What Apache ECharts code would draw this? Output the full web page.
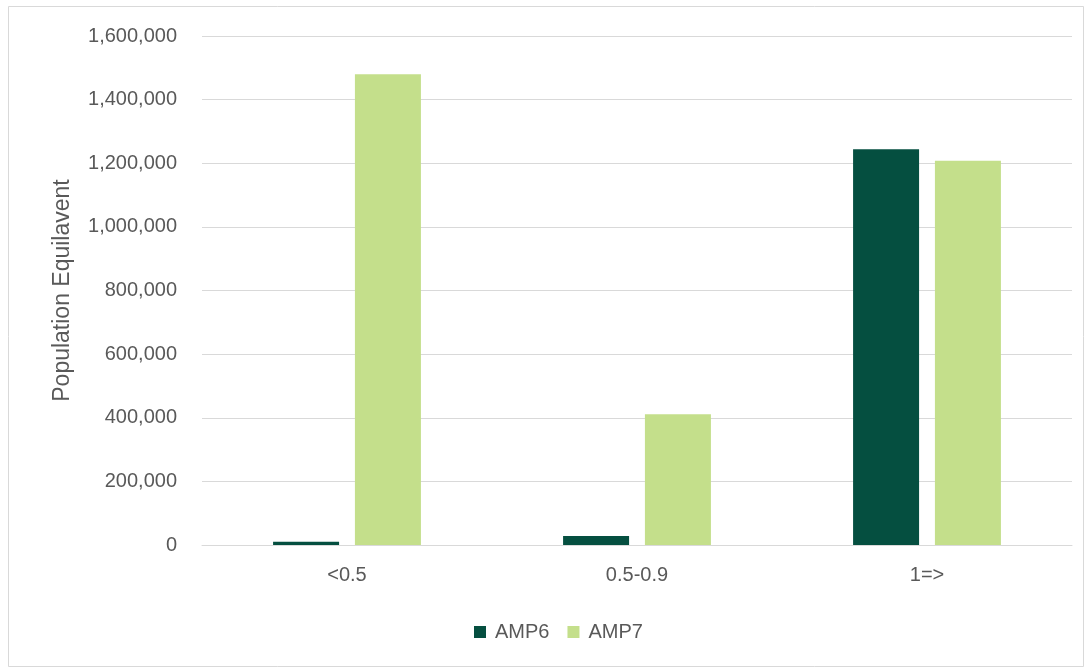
<!DOCTYPE html>
<html>
<head>
<meta charset="utf-8">
<script src="https://cdn.jsdelivr.net/npm/echarts@6/dist/echarts.min.js"></script>
<style>
  html, body { margin: 0; padding: 0; background: #fff; }
  #chart { width: 1091px; height: 669px; }
</style>
</head>
<body>
<div id="chart"></div>
<script>
// Population equivalent by band, AMP6 vs AMP7
const categories = ['<0.5', '0.5-0.9', '1=>'];
const amp6 = [10000, 28000, 1244000];
const amp7 = [1480000, 411000, 1208000];
const yTicks = [0, 200000, 400000, 600000, 800000, 1000000, 1200000, 1400000, 1600000];

const FONT = '"Liberation Sans", Arial, sans-serif';
const TEXT = '#595959';

const chart = echarts.init(document.getElementById('chart'), null, { renderer: 'canvas' });
chart.setOption({
  backgroundColor: '#fff',
  animation: false,
  textStyle: { fontFamily: FONT },
  graphic: [{
    type: 'rect',
    shape: { x: 8.5, y: 6.5, width: 1075, height: 660 },
    style: { fill: 'none', stroke: '#d9d9d9', lineWidth: 1 },
    silent: true
  }],
  grid: { left: 202, right: 19, top: 36, bottom: 124 },
  legend: {
    data: ['AMP6', 'AMP7'],
    bottom: 22,
    left: 469,
    itemWidth: 12,
    itemHeight: 12,
    itemGap: 18,
    icon: 'rect',
    textStyle: { color: TEXT, fontSize: 20, fontFamily: FONT, padding: [0, 0, 0, 4] }
  },
  xAxis: {
    type: 'category',
    data: categories,
    axisLine: { lineStyle: { color: '#d9d9d9', width: 1 } },
    axisTick: { show: false },
    axisLabel: { color: TEXT, fontSize: 20, margin: 20, fontFamily: FONT }
  },
  yAxis: {
    type: 'value',
    min: yTicks[0],
    max: yTicks[yTicks.length - 1],
    interval: yTicks[1] - yTicks[0],
    name: 'Population Equilavent',
    nameLocation: 'middle',
    nameGap: 128,
    nameTextStyle: { color: TEXT, fontSize: 23, fontFamily: FONT },
    axisLine: { show: false },
    axisTick: { show: false },
    splitLine: { lineStyle: { color: '#d9d9d9', width: 1 } },
    axisLabel: {
      color: TEXT, fontSize: 20, margin: 25, fontFamily: FONT,
      formatter: v => v.toLocaleString('en-US')
    }
  },
  series: [
    {
      name: 'AMP6', type: 'bar', data: amp6,
      barWidth: 66, barGap: '24%',
      itemStyle: { color: '#054f40' }
    },
    {
      name: 'AMP7', type: 'bar', data: amp7,
      barWidth: 66,
      itemStyle: { color: '#c4df8b' }
    }
  ]
});
</script>
</body>
</html>
